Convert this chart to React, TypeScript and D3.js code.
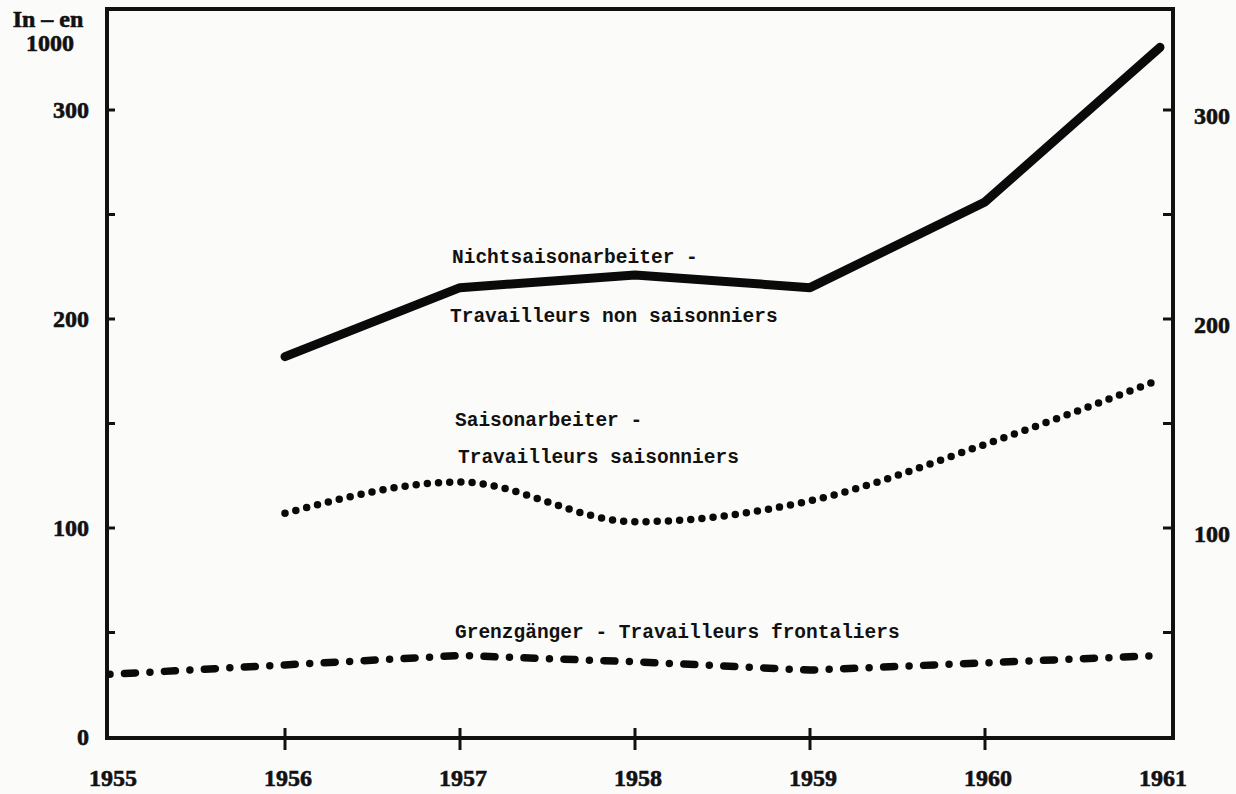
import React from "react";
import * as d3 from "d3";

const years = [1955, 1956, 1957, 1958, 1959, 1960, 1961];
const nonSeasonal = [null, 182, 215, 221, 215, 256, 330];
const seasonal = [null, 107, 122, 103, 113, 140, 171];
const frontier = [30, 34.5, 39, 36, 32, 35.5, 39];
const leftTickLabels = [0, 100, 200, 300];
const rightTickLabels = [100, 200, 300];
const minorTicks = [50, 100, 150, 200, 250, 300];

const W = 1236;
const H = 794;

const x = d3.scaleLinear().domain([1955, 1961]).range([110, 1160]);
const y = d3.scaleLinear().domain([0, 300]).range([737, 110]);

const frame = { left: 107, right: 1173, top: 9, bottom: 738 };

function makeLine(values: (number | null)[], curve: d3.CurveFactory) {
  const pts = years
    .map((yr, i) => [yr, values[i]] as [number, number | null])
    .filter((d) => d[1] != null) as [number, number][];
  return d3
    .line<[number, number]>()
    .x((d) => x(d[0]))
    .y((d) => y(d[1]))
    .curve(curve)(pts) as string;
}

const tickFont = "'Liberation Serif', serif";
const labelFont = "'Liberation Mono', monospace";

export default function App() {
  return (
    <svg width={W} height={H} style={{ display: "block", position: "absolute", left: 0, top: 0 }}>
      <rect width={W} height={H} fill="#fbfbfa" />

      {/* frame */}
      <rect
        x={frame.left}
        y={frame.top}
        width={frame.right - frame.left}
        height={frame.bottom - frame.top}
        fill="none"
        stroke="#111"
        strokeWidth={4}
      />

      {/* left axis ticks */}
      {minorTicks.map((t) => (
        <line key={"l" + t} x1={frame.left} x2={frame.left + 8} y1={y(t)} y2={y(t)} stroke="#111" strokeWidth={3} />
      ))}
      {/* right axis ticks */}
      {minorTicks.map((t) => (
        <line key={"r" + t} x1={frame.right - 10} x2={frame.right} y1={y(t)} y2={y(t)} stroke="#111" strokeWidth={3} />
      ))}
      {/* bottom ticks */}
      {years.slice(1, -1).map((yr) => (
        <line key={"b" + yr} x1={x(yr)} x2={x(yr)} y1={frame.bottom - 10} y2={frame.bottom + 12} stroke="#111" strokeWidth={3} />
      ))}

      <g fontFamily={tickFont} fontWeight="bold" fontSize={24} fill="#111" stroke="#111" strokeWidth={0.6}>
        <text x={48} y={27} textAnchor="middle">In – en</text>
        <text x={50} y={51} textAnchor="middle">1000</text>
        {leftTickLabels.map((t) => (
          <text key={"lt" + t} x={89} y={y(t) + 8} textAnchor="end">
            {t}
          </text>
        ))}
        {rightTickLabels.map((t) => (
          <text key={"rt" + t} x={1194} y={y(t) + 14} textAnchor="start">
            {t}
          </text>
        ))}
        {years.map((yr) => (
          <text key={"yr" + yr} x={x(yr) + 3} y={786} textAnchor="middle">
            {yr}
          </text>
        ))}
      </g>

      {/* series */}
      <path d={makeLine(nonSeasonal, d3.curveLinear)} fill="none" stroke="#0a0a0a" strokeWidth={9} strokeLinecap="round" strokeLinejoin="round" />
      <path
        d={makeLine(seasonal, d3.curveMonotoneX)}
        fill="none"
        stroke="#0a0a0a"
        strokeWidth={7.5}
        strokeLinecap="round"
        strokeDasharray="0 11.2"
      />
      <path
        d={makeLine(frontier, d3.curveLinear)}
        fill="none"
        stroke="#0a0a0a"
        strokeWidth={7.5}
        strokeLinecap="round"
        strokeDasharray="0 14.5 11 14.5"
      />

      <g fontFamily={labelFont} fontWeight="bold" fontSize={19.5} fill="#111">
        <text x={452} y={263}>Nichtsaisonarbeiter -</text>
        <text x={450} y={322}>Travailleurs non saisonniers</text>
        <text x={455} y={426}>Saisonarbeiter -</text>
        <text x={458} y={463}>Travailleurs saisonniers</text>
        <text x={455} y={638}>Grenzgänger - Travailleurs frontaliers</text>
      </g>
    </svg>
  );
}
